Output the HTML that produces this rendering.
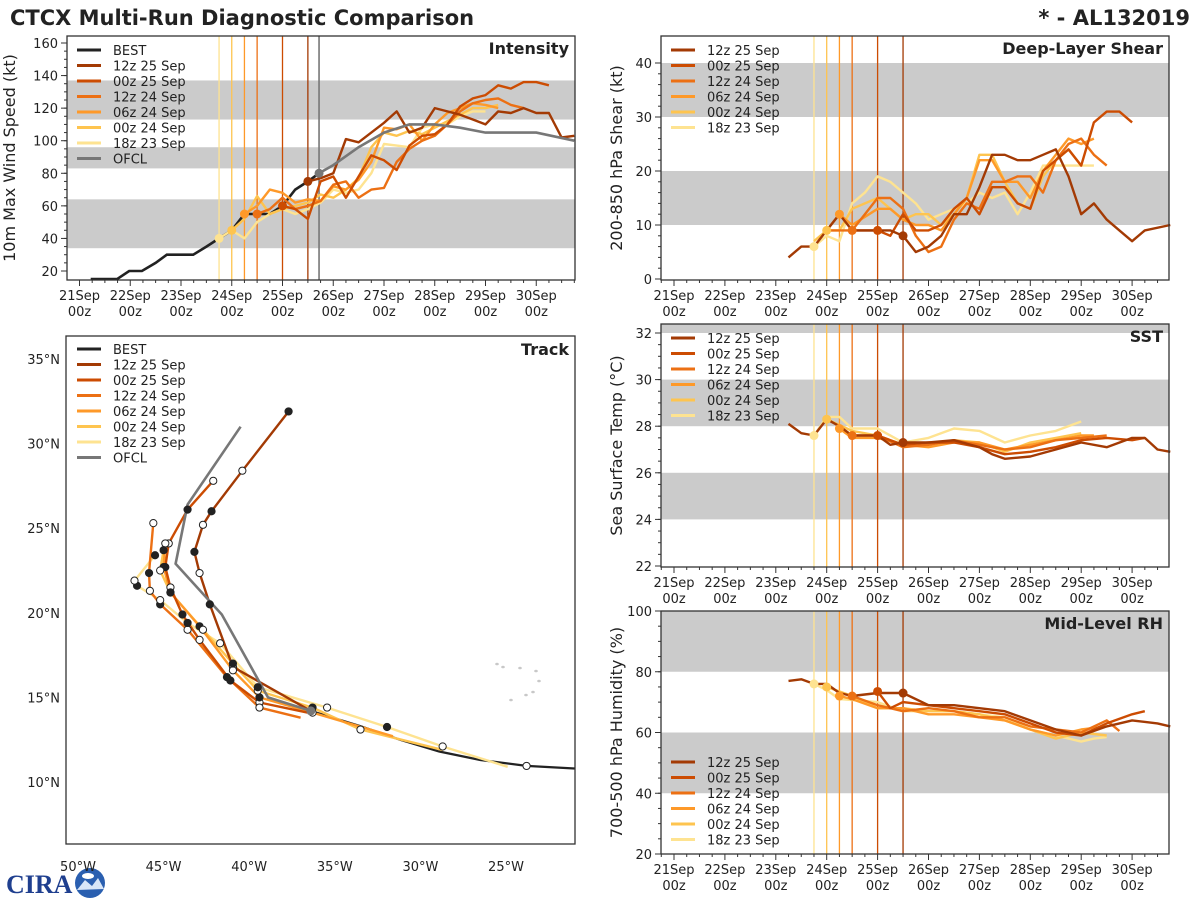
<!DOCTYPE html>
<html><head><meta charset="utf-8"><style>
body{margin:0;background:#fff;}
svg{display:block;font-family:"DejaVu Sans","Liberation Sans",sans-serif;}
</style></head><body>
<svg id="root" width="1200" height="900" viewBox="0 0 1200 900">
<text x="10" y="25" font-size="21" font-weight="bold" fill="#222">CTCX Multi-Run Diagnostic Comparison</text>
<text x="1190" y="25" font-size="21" font-weight="bold" fill="#222" text-anchor="end">* - AL132019</text>
<g>
<text x="6" y="893" font-size="26" font-weight="bold" fill="#1f3f8f" font-family="Liberation Serif,serif">CIRA</text>
<circle cx="90" cy="883" r="15" fill="#2a5fb0"/>
<path d="M77 890 L85 880 L92 886 L98 878 L104 889 Z" fill="#d8e6f8"/>
<ellipse cx="88" cy="876" rx="6" ry="3" fill="#fff"/>
</g>
<g id="charts"></g>
</svg>
<script>
// ---------- colors / run names ----------
const runNames = ["12z 25 Sep","00z 25 Sep","12z 24 Sep","06z 24 Sep","00z 24 Sep","18z 23 Sep"];
const runColors = ["#a33a04","#cc4c02","#ec7014","#fe9929","#fec44f","#fee391"];
const runInit = [4.5,4.0,3.5,3.25,3.0,2.75];
const ofclInit = 4.72;

// ---------- Intensity data (days since 21 Sep 00z, kt) ----------
const bestT = [0.22,0.5,0.74,0.98,1.23,1.5,1.72,2.0,2.24,2.5,2.75,3.0,3.25,3.5,3.75,4.0,4.25,4.5,4.72];
const bestV = [15,15,15,20,20,25,30,30,30,35,40,45,55,55,55,60,70,75,80];
const ofclT = [4.72,5,5.5,6,6.5,7,7.5,8,8.5,9,9.75];
const ofclV = [80,85,96,105,110,110,108,105,105,105,100];
const intT = [
 [4.5,4.75,5,5.25,5.5,5.75,6,6.25,6.5,6.75,7,7.25,7.5,7.75,8,8.25,8.5,8.75,9,9.25,9.5,9.75],
 [4,4.25,4.5,4.75,5,5.25,5.5,5.75,6,6.25,6.5,6.75,7,7.25,7.5,7.75,8,8.25,8.5,8.75,9,9.25],
 [3.5,3.75,4,4.25,4.5,4.75,5,5.25,5.5,5.75,6,6.25,6.5,6.75,7,7.25,7.5,7.75,8,8.25,8.5,8.75],
 [3.25,3.5,3.75,4,4.25,4.5,4.75,5,5.25,5.5,5.75,6,6.25,6.5,6.75,7,7.25,7.5,7.75,8,8.25],
 [3,3.25,3.5,3.75,4,4.25,4.5,4.75,5,5.25,5.5,5.75,6,6.25,6.5,6.75,7,7.25,7.5,7.75,8,8.25],
 [2.75,3,3.25,3.5,3.75,4,4.25,4.5,4.75,5,5.25,5.5,5.75,6,6.25,6.5,6.75,7,7.25,7.5,7.75,8]
];
const intV = [
 [75,77,80,101,99,105,111,118,105,108,120,118,116,113,110,118,117,120,117,117,102,103],
 [60,58,52,75,78,65,78,91,88,82,97,103,104,110,121,126,128,134,132,136,136,134],
 [55,58,65,58,60,63,73,75,65,70,71,87,95,100,103,110,118,123,125,126,122,120],
 [55,60,70,68,62,64,63,72,70,76,87,108,107,110,100,110,117,120,123,122,120],
 [45,52,66,55,58,60,62,67,65,70,77,96,105,103,106,104,108,112,116,120,120,122],
 [40,45,40,50,55,58,55,58,62,70,68,70,80,98,97,96,108,110,110,115,118,118]
];
// ---------- Shear ----------
const shrT = [
 [2.25,2.5,2.75,3,3.25,3.5,4,4.25,4.5,4.75,5,5.25,5.5,5.75,6,6.25,6.5,6.75,7,7.25,7.5,7.75,8,8.25,8.5,8.75,9,9.25,9.75],
 [3.5,4,4.25,4.5,4.75,5,5.25,5.5,5.75,6,6.25,6.5,6.75,7,7.25,7.5,7.75,8,8.25,8.5,8.75,9],
 [3,3.5,3.75,4,4.25,4.5,4.75,5,5.25,5.5,5.75,6,6.25,6.5,6.75,7,7.25,7.5,7.75,8,8.25,8.5],
 [3,3.25,3.5,4,4.25,4.5,4.75,5,5.25,5.5,5.75,6,6.25,6.5,6.75,7,7.25,7.5,7.75,8,8.25],
 [2.75,3,3.25,3.5,3.75,4,4.25,4.5,4.75,5,5.25,5.5,5.75,6,6.25,6.5,6.75,7,7.25,7.5,7.75,8],
 [2.75,3,3.25,3.5,3.75,4,4.25,4.5,4.75,5,5.25,5.5,5.75,6,6.25,6.5,6.75,7,7.25,7.5,7.75,8.25]
];
const shrV = [
 [4,6,6,9,12,9,9,9,8,5,6,8,12,12,17,23,23,22,22,23,24,19,12,14,11,9,7,9,10],
 [9,9,8,12,9,9,10,13,15,12,17,17,14,13,20,22,24,21,29,31,31,29],
 [9,9,12,15,15,13,8,5,6,11,14,13,18,18,19,19,16,22,25,26,23,21],
 [9,12,10,13,13,11,10,10,9,12,15,22,22,18,18,15,20,23,26,25,26],
 [7,9,9,13,14,15,13,11,12,12,10,12,15,23,23,18,14,13,19,22,24,21],
 [6,8,7,14,16,19,18,16,14,11,12,13,14,16,15,16,12,16,21,21,21,21]
];
// ---------- SST ----------
const sstT = [
 [2.25,2.5,2.75,3,3.25,3.5,4,4.25,4.5,5,5.5,6,6.25,6.5,7,7.5,8,8.5,9,9.25,9.5,9.75],
 [4,4.25,4.5,5,5.5,6,6.5,7,7.5,8,8.5,9,9.25],
 [3.5,4,4.5,5,5.5,6,6.5,7,7.5,8,8.5],
 [3.25,3.5,4,4.5,5,5.5,6,6.5,7,7.5,8,8.25],
 [3,3.5,4,4.5,5,5.5,6,6.5,7,7.5,8],
 [2.75,3,3.25,3.5,4,4.5,5,5.5,6,6.5,7,7.5,8]
];
const sstV = [
 [28.1,27.7,27.6,28.3,28.0,27.6,27.6,27.2,27.3,27.3,27.4,27.1,26.8,26.6,26.7,27.0,27.3,27.1,27.5,27.5,27.0,26.9],
 [27.6,27.4,27.2,27.3,27.3,27.1,26.8,26.9,27.1,27.4,27.5,27.4,27.5],
 [27.6,27.6,27.1,27.2,27.4,27.2,27.0,27.1,27.4,27.5,27.6],
 [27.9,27.5,27.5,27.2,27.1,27.3,27.3,27.0,27.2,27.4,27.6,27.6],
 [28.3,27.8,27.6,27.2,27.2,27.4,27.3,26.9,27.3,27.5,27.7],
 [27.6,28.4,28.4,27.9,27.9,27.3,27.5,27.9,27.8,27.3,27.6,27.8,28.2]
];
// ---------- RH ----------
const rhT = [
 [2.25,2.5,2.75,3,3.25,3.5,4,4.5,5,5.5,6,6.5,7,7.5,8,8.5,9,9.5,9.75],
 [4,4.25,4.5,5,5.5,6,6.5,7,7.5,8,8.5,9,9.25],
 [3.5,4,4.5,5,5.5,6,6.5,7,7.5,8,8.5,8.75],
 [3.25,3.5,4,4.5,5,5.5,6,6.5,7,7.5,8,8.5],
 [3,3.5,4,4.5,5,5.5,6,6.5,7,7.5,8,8.5],
 [2.75,3,3.25,4,4.5,5,5.5,6,6.5,7,7.5,8,8.25,8.5]
];
const rhV = [
 [77,77.5,76,76,73,72,73,73,69,69,68,67,64,61,59,62,64,63,62],
 [73.5,68,70,69,68,67,66,63,60,59,63,66,67],
 [72,69,67,68,67,65,65,62,61,60,64,60.5],
 [72,71,68,68,66,66,65,64,61,59,61,62],
 [75,72,68,68,67,67,66,64,61,58,60,59],
 [76,74,71,70,67,67,67,66,65,61,59,57,58,58.5]
];
// ---------- Track (lon, lat) ----------
const bestLon = [-21,-23.8,-26.5,-28.9,-31.2,-33.5,-36.4];
const bestLat = [10.8,10.95,11.3,11.8,12.5,13.3,14.2];
const ofclLon = [-36.4,-38.9,-41.6,-44.3,-43.6,-40.5];
const ofclLat = [14.2,15.0,19.9,22.9,26.4,31.0];
const trkLon = [
 [-36.4,-40.95,-42.3,-42.9,-43.2,-42.7,-42.2,-40.4,-37.7],
 [-36.6,-39.4,-41.1,-42.9,-43.9,-44.6,-44.9,-44.7,-43.6,-42.1],
 [-37.0,-39.4,-41.3,-43.6,-45.2,-45.8,-45.85,-45.6],
 [-31.6,-36.3,-39.4,-40.95,-42.9,-44.6,-45.0,-44.9],
 [-28.7,-33.5,-36.3,-39.5,-40.95,-42.7,-44.6,-45.2,-45.0],
 [-24.9,-28.7,-31.95,-35.45,-39.5,-41.7,-43.6,-45.2,-46.55,-46.7,-45.5]
];
const trkLat = [
 [14.2,16.8,20.5,22.35,23.6,25.2,26.0,28.4,31.9],
 [14.1,14.7,16.0,18.4,19.9,21.5,22.7,24.1,26.1,27.8],
 [13.8,14.4,16.2,19.0,20.5,21.3,22.35,25.3],
 [12.7,14.1,15.0,16.6,19.2,21.2,22.7,24.1],
 [11.9,13.1,14.4,15.4,17.0,19.0,21.2,22.5,23.7],
 [10.9,12.1,13.25,14.4,15.6,18.2,19.4,20.75,21.6,21.9,23.4]
];
const dayLabels = ["21Sep","22Sep","23Sep","24Sep","25Sep","26Sep","27Sep","28Sep","29Sep","30Sep"];

const NS="http://www.w3.org/2000/svg";
const root=document.getElementById('charts');
function mk(tag,attrs,parent){const e=document.createElementNS(NS,tag);for(const k in attrs)e.setAttribute(k,attrs[k]);(parent||root).appendChild(e);return e;}
function pts(xs,ys,fx,fy){return xs.map((v,i)=>fx(v).toFixed(1)+","+fy(ys[i]).toFixed(1)).join(" ");}
function interp(ts,vs,t){if(t<=ts[0])return vs[0];for(let k=1;k<ts.length;k++){if(t<=ts[k]){const f=(t-ts[k-1])/(ts[k]-ts[k-1]);return vs[k-1]+f*(vs[k]-vs[k-1]);}}return vs[vs.length-1];}

function panel(o){
  const g=mk('g',{});
  
  
  const fx=t=>o.x0+(t)*o.pd;
  const fy=v=>o.yb-(v-o.vmin)*(o.yb-o.yt)/(o.vmax-o.vmin);
  o.bands.forEach(b=>{const r=mk('rect',{x:o.L,y:Math.max(o.T,fy(b[1])),width:o.R-o.L,height:Math.min(o.B,fy(b[0]))-Math.max(o.T,fy(b[1])),fill:'#cbcbcb'},g);
    });
  runInit.forEach((t,i)=>{const l=mk('line',{x1:fx(t),x2:fx(t),y1:o.T,y2:o.B,stroke:runColors[i],'stroke-width':1.3},g);
    });
  if(o.ofcl){const l=mk('line',{x1:fx(ofclInit),x2:fx(ofclInit),y1:o.T,y2:o.B,stroke:'#777','stroke-width':1.6},g);
    }
  if(o.best){const p=mk('polyline',{points:pts(bestT,bestV,fx,fy),fill:'none',stroke:'#222','stroke-width':2.6},g);
    }
  for(let i=5;i>=0;i--){const p=mk('polyline',{points:pts(o.T_[i],o.V_[i],fx,fy),fill:'none',stroke:runColors[i],'stroke-width':2.4,'stroke-linejoin':'round'},g);
    }
  for(let i=5;i>=0;i--){
    const c=mk('circle',{cx:fx(runInit[i]),cy:fy(interp(o.T_[i],o.V_[i],runInit[i])),r:4.5,fill:runColors[i]},g);
    }
  if(o.ofcl){const p=mk('polyline',{points:pts(ofclT,ofclV,fx,fy),fill:'none',stroke:'#777','stroke-width':2.6},g);
    
    const c=mk('circle',{cx:fx(ofclT[0]),cy:fy(ofclV[0]),r:4.5,fill:'#777'},g);
    }
  const fr=mk('rect',{x:o.L,y:o.T,width:o.R-o.L,height:o.B-o.T,fill:'none',stroke:'#333','stroke-width':1.3},g);
  
  for(let d=0;d<10;d++){const x=fx(d);
    mk('line',{x1:x,x2:x,y1:o.B,y2:o.B+6,stroke:'#333'},g);
    const t1=mk('text',{x:x,y:o.B+20,'font-size':13,'text-anchor':'middle',fill:'#222'},g);t1.textContent=dayLabels[d];
    
    const t2=mk('text',{x:x,y:o.B+36,'font-size':13,'text-anchor':'middle',fill:'#222'},g);t2.textContent="00z";
    }
  for(let q=-0.75;q<10;q+=0.25){const x=fx(q);if(x<o.L||x>o.R||Math.abs(q-Math.round(q))<0.01)continue;
    mk('line',{x1:x,x2:x,y1:o.B,y2:o.B+3,stroke:'#333'},g);}
  o.yticks.forEach(v=>{const y=fy(v);mk('line',{x1:o.L-6,x2:o.L,y1:y,y2:y,stroke:'#333'},g);
    const t=mk('text',{x:o.L-9,y:y+5,'font-size':13,'text-anchor':'end',fill:'#222'},g);t.textContent=v;
    });
  for(let v=o.vmin;v<=o.vmax+0.01;v+=o.minor){const y=fy(v);if(y<o.T-0.5||y>o.B+0.5)continue;mk('line',{x1:o.L-3,x2:o.L,y1:y,y2:y,stroke:'#333'},g);}
  const yl=mk('text',{x:0,y:0,'font-size':16,'text-anchor':'middle',fill:'#222',transform:`translate(${o.ylx},${(o.T+o.B)/2}) rotate(-90)`},g);
  yl.textContent=o.ylabel;
  const tt=mk('text',{x:o.R-6,y:o.T+18,'font-size':16,'font-weight':'bold','text-anchor':'end',fill:'#222'},g);
  tt.textContent=o.title;
  legend(g,o.L+10,o.legY,o.best?['BEST',...runNames,'OFCL']:runNames,o.best?['#222',...runColors,'#777']:runColors);
}
function legend(g,x,y,names,cols){
  const lg=mk('g',{},g);
  names.forEach((n,i)=>{const yy=y+i*15.5;
    mk('line',{x1:x,x2:x+24,y1:yy,y2:yy,stroke:cols[i],'stroke-width':3},lg);
    const t=mk('text',{x:x+36,y:yy+5,'font-size':13,fill:'#222'},lg);t.textContent=n;
    });
}
panel({name:'intensity-panel',L:67,R:575,T:36,B:280,x0:79.5,pd:50.75,yt:43,yb:271,vmin:20,vmax:160,
  bands:[[34,64],[83,96],[113,137]],yticks:[20,40,60,80,100,120,140,160],minor:5,best:true,ofcl:true,
  T_:intT,V_:intV,ylabel:'10m Max Wind Speed (kt)',ylx:15,title:'Intensity',legY:50});
panel({name:'shear-panel',L:661,R:1169,T:36,B:280,x0:674,pd:50.9,yt:63,yb:279,vmin:0,vmax:40,
  bands:[[10,20],[30,40]],yticks:[0,10,20,30,40],minor:2,T_:shrT,V_:shrV,ylabel:'200-850 hPa Shear (kt)',ylx:622,title:'Deep-Layer Shear',legY:50});
panel({name:'sst-panel',L:661,R:1169,T:324,B:567,x0:674,pd:50.9,yt:333,yb:566,vmin:22,vmax:32,
  bands:[[24,26],[28,30],[32,33]],yticks:[22,24,26,28,30,32],minor:0.5,T_:sstT,V_:sstV,ylabel:'Sea Surface Temp (°C)',ylx:622,title:'SST',legY:338});
panel({name:'rh-panel',L:661,R:1169,T:611,B:854,x0:674,pd:50.9,yt:611,yb:854,vmin:20,vmax:100,
  bands:[[40,60],[80,100]],yticks:[20,40,60,80,100],minor:5,T_:rhT,V_:rhV,ylabel:'700-500 hPa Humidity (%)',ylx:622,title:'Mid-Level RH',legY:762});

// ---------- Track panel ----------
(function(){
  const g=mk('g',{});
  const L=66,R=575,T=336,B=844;
  const fx=lon=>78+(lon+50)*17.12, fy=lat=>782-(lat-10)*16.92;
  const cp=mk('clipPath',{id:'tclip'},g);mk('rect',{x:L,y:T,width:R-L,height:B-T},cp);
  const pg=mk('g',{'clip-path':'url(#tclip)'},g);
  [[497,664],[503,667],[520,668],[536,671],[539,681],[526,695],[511,700],[533,692]].forEach(p=>{const e=mk('ellipse',{cx:p[0],cy:p[1],rx:1.8,ry:1.3,fill:'#c8c8c8'},pg);});
  const b=mk('polyline',{points:pts(bestLon,bestLat,fx,fy),fill:'none',stroke:'#222','stroke-width':2.2},pg);
  
  for(let i=5;i>=0;i--){const p=mk('polyline',{points:pts(trkLon[i],trkLat[i],fx,fy),fill:'none',stroke:runColors[i],'stroke-width':2.4,'stroke-linejoin':'round'},pg);
    }
  const of=mk('polyline',{points:pts(ofclLon,ofclLat,fx,fy),fill:'none',stroke:'#777','stroke-width':2.6},pg);
  
  for(let i=0;i<6;i++){trkLon[i].forEach((lo,j)=>{if(j===0)return;
    const c=mk('circle',{cx:fx(lo),cy:fy(trkLat[i][j]),r:3.6,fill:(j%2?'#fff':'#222'),stroke:'#222','stroke-width':1},pg);
    });}
  const oc=mk('circle',{cx:fx(-36.4),cy:fy(14.2),r:4.5,fill:'#777'},pg);
  const wc=mk('circle',{cx:fx(-23.8),cy:fy(10.95),r:3.6,fill:'#fff',stroke:'#222'},pg);
  const fr=mk('rect',{x:L,y:T,width:R-L,height:B-T,fill:'none',stroke:'#333','stroke-width':1.3},g);
  
  [10,15,20,25,30,35].forEach(la=>{const t=mk('text',{x:60,y:fy(la)+5,'font-size':13,'text-anchor':'end',fill:'#222'},g);t.textContent=la+'°N';
    });
  [50,45,40,35,30,25].forEach(lo=>{const t=mk('text',{x:fx(-lo),y:871,'font-size':13,'text-anchor':'middle',fill:'#222'},g);t.textContent=lo+'°W';
    });
  const tt=mk('text',{x:R-6,y:T+19,'font-size':16,'font-weight':'bold','text-anchor':'end',fill:'#222'},g);tt.textContent='Track';
  
  legend(g,L+11,349,['BEST',...runNames,'OFCL'],['#222',...runColors,'#777']);
})();
</script>
</body></html>
